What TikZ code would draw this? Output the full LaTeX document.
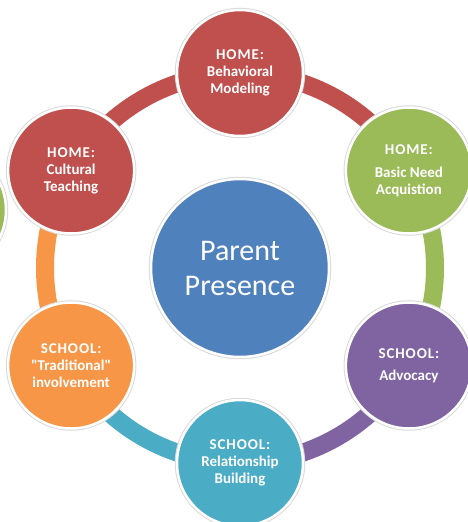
\documentclass[tikz,border=0pt]{standalone}
\usepackage{fontspec}
\setmainfont{Carlito}[Ligatures=TeXOff]
\usetikzlibrary{backgrounds}

\definecolor{cred}{HTML}{C0504D}
\definecolor{cgreen}{HTML}{9BBB59}
\definecolor{cpurple}{HTML}{8064A2}
\definecolor{cteal}{HTML}{4BACC6}
\definecolor{corange}{HTML}{F79646}
\definecolor{cblue}{HTML}{4F81BD}

\newcommand{\spaced}[1]{{\addfontfeature{LetterSpace=6}#1}}

\begin{document}
\begin{tikzpicture}[x=1pt,y=1pt,
  petal/.style={circle, minimum size=126pt, inner sep=0pt, fill=#1,
    draw=white, line width=2.5pt, preaction={draw=gray!30, line width=4.5pt},
    text=white, align=center, font=\bfseries\fontsize{15}{17}\selectfont},
  hub/.style={petal=cblue, minimum size=178pt, font=\fontsize{30}{35}\selectfont},
  band/.style={draw=#1, line width=18pt}]

\useasboundingbox (0,0) rectangle (468,-522);
\coordinate (ring) at (240,-268);

\node[hub] (parent) at (ring) {Parent\\Presence};

\node[petal=cred] (behav) at ([shift={(90:195)}]ring) {\spaced{HOME:}\\Behavioral\\Modeling};
\node[petal=cgreen] (basic) at ([shift={(30:195)}]ring) {\spaced{HOME:}\\[6pt]Basic Need\\Acquistion};
\node[petal=cpurple] (advoc) at ([shift={(-30:195)}]ring) {\spaced{SCHOOL:}\\[5pt]Advocacy};
\node[petal=cteal] (relat) at ([shift={(-90:195)}]ring) {\spaced{SCHOOL:}\\Relationship\\Building};
\node[petal=corange] (tradi) at ([shift={(-150:195)}]ring) {\spaced{SCHOOL:}\\"Traditional"\\involvement};
\node[petal=cred] (cultu) at ([shift={(150:195)}]ring) {\spaced{HOME:}\\Cultural\\Teaching};

% cut off at the left edge
\node[petal=cgreen] (edge) at (-57,-210) {};

\begin{scope}[on background layer]
\foreach \from/\ang/\col in {behav/90/cred, basic/30/cgreen, advoc/-30/cpurple,
    relat/-90/cteal, tradi/-150/corange, cultu/150/cred}
  \draw[band=\col] (\from.center) arc[start angle=\ang, end angle=\ang-60, radius=195pt];
\end{scope}
\end{tikzpicture}
\end{document}
